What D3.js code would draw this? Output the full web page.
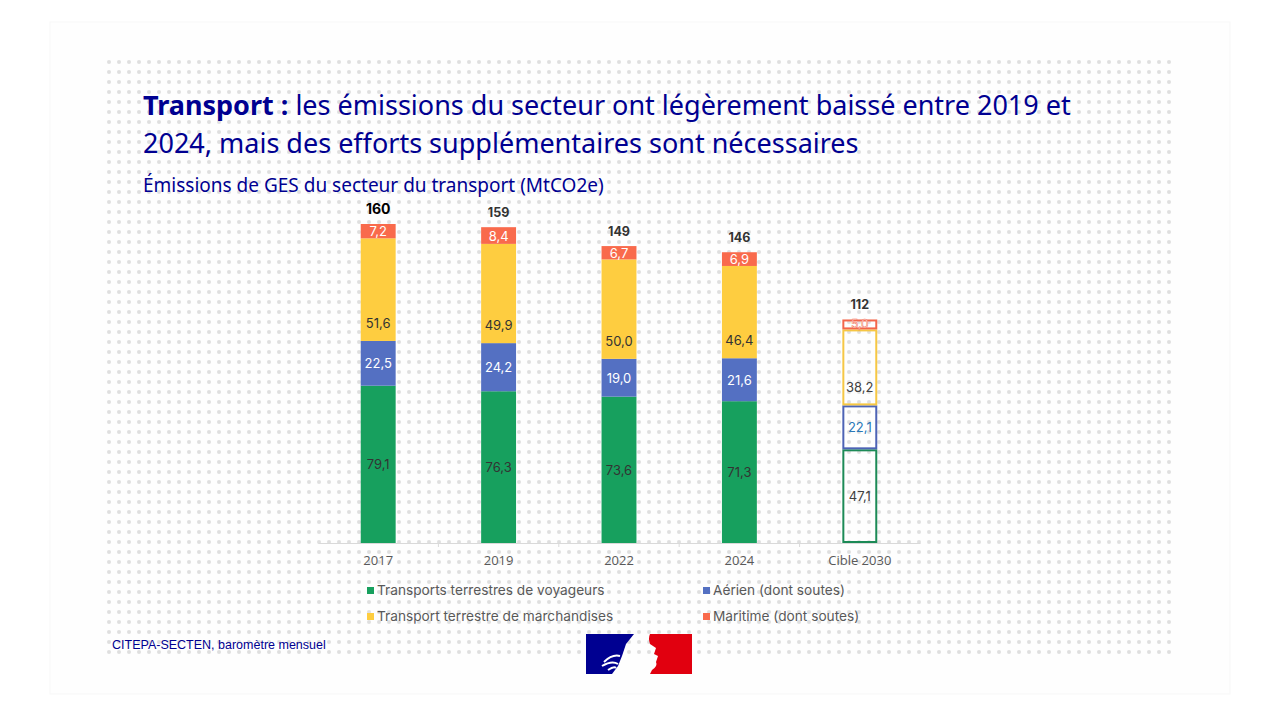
<!DOCTYPE html>
<html>
<head>
<meta charset="utf-8">
<script src="https://cdn.jsdelivr.net/npm/d3@7"></script>
<style>
  body { margin: 0; background: #fff; }
  svg { display: block; }
</style>
</head>
<body>
<div id="chart"></div>
<script>
// data (MtCO2e)
const categories = ["2017", "2019", "2022", "2024", "Cible 2030"];
const voyageurs = [79.1, 76.3, 73.6, 71.3, 47.1];
const aerien = [22.5, 24.2, 19.0, 21.6, 22.1];
const marchandises = [51.6, 49.9, 50.0, 46.4, 38.2];
const maritime = [7.2, 8.4, 6.7, 6.9, 5.0];
const totals = [160, 159, 149, 146, 112];
const seriesNames = ["Transports terrestres de voyageurs", "Aérien (dont soutes)",
                     "Transport terrestre de marchandises", "Maritime (dont soutes)"];
const targetIndex = 4; // "Cible 2030" drawn as outline

const W = 1280, H = 720;
const colors = ["#17a05e", "#5470c2", "#fecd40", "#f96a4c"];
const strokeTarget = ["#1c8a56", "#4d63b5", "#f6c744", "#f3664a"];
const navy = "#000091";
const titleFont = "'Noto Sans', 'Open Sans', sans-serif";

const svg = d3.select("#chart").append("svg")
    .attr("width", W)
    .attr("height", H);

// faint card + dotted background
svg.append("rect")
    .attr("x", 50).attr("y", 22).attr("width", 1180).attr("height", 672)
    .attr("fill", "#fefefe").attr("stroke", "#f7f7f7");

let defs = svg.append("defs");
let pat = defs.append("pattern")
    .attr("id", "dots")
    .attr("patternUnits", "userSpaceOnUse")
    .attr("width", 10).attr("height", 10)
    .attr("x", 104).attr("y", 57);
pat.append("circle").attr("cx", 5).attr("cy", 5).attr("r", 2).attr("fill", "#dfdfdf");
svg.append("rect")
    .attr("x", 104).attr("y", 57).attr("width", 1072).attr("height", 603)
    .attr("fill", "url(#dots)");

// title
let title = svg.append("text")
    .attr("x", 143).attr("y", 115)
    .attr("font-family", titleFont)
    .attr("font-size", 27)
    .attr("fill", navy);
title.append("tspan").attr("font-weight", "bold").text("Transport : ");
title.append("tspan").text("les émissions du secteur ont légèrement baissé entre 2019 et");
svg.append("text")
    .attr("x", 143).attr("y", 153)
    .attr("font-family", titleFont)
    .attr("font-size", 27)
    .attr("fill", navy)
    .text("2024, mais des efforts supplémentaires sont nécessaires");
svg.append("text")
    .attr("x", 143).attr("y", 192)
    .attr("font-family", titleFont)
    .attr("font-size", 19)
    .attr("fill", navy)
    .text("Émissions de GES du secteur du transport (MtCO2e)");

// stack
let rows = categories.map((c, i) => ({
    cat: c, i: i,
    s0: voyageurs[i], s1: aerien[i], s2: marchandises[i], s3: maritime[i]
}));
let stack = d3.stack().keys(["s0", "s1", "s2", "s3"])(rows);

const x = d3.scaleBand().domain(categories).range([318, 920]).paddingInner(0.71).paddingOuter(0.355);
const y = d3.scaleLinear().domain([0, 160.4]).range([543, 224]);

const locale = d3.formatLocale({decimal: ",", thousands: " ", grouping: [3], currency: ["", "€"]});
const fmt = locale.format(".1f");

let g = svg.append("g");

stack.forEach((layer, k) => {
    layer.forEach(d => {
        let i = d.data.i;
        let target = i === targetIndex;
        let x0 = x(d.data.cat), bw = x.bandwidth();
        let top = y(d[1]), bot = y(d[0]);
        if (target) {
            g.append("rect")
                .attr("x", x0 + 1).attr("y", top + 1)
                .attr("width", bw - 2).attr("height", Math.max(0, bot - top - 2))
                .attr("fill", "none")
                .attr("stroke", strokeTarget[k])
                .attr("stroke-width", 2);
        } else {
            g.append("rect")
                .attr("x", x0).attr("y", top)
                .attr("width", bw).attr("height", bot - top)
                .attr("fill", colors[k]);
        }
        // value label
        let ly = (top + bot) / 2 + 5;
        if (k === 2) ly = bot - 13;
        let fill;
        if (target) fill = k === 1 ? "#2a78b8" : (k === 3 ? "#fff" : "#404040");
        else fill = (k === 1 || k === 3) ? "#fff" : "#333";
        let t = g.append("text")
            .attr("x", x0 + bw / 2).attr("y", ly)
            .attr("text-anchor", "middle")
            .attr("font-family", "Inter, 'Noto Sans', sans-serif")
            .attr("font-size", 13)
            .attr("fill", fill)
            .text(fmt(d[1] - d[0]));
        if (target && k === 3) {
            t.attr("stroke", "#f3664a").attr("stroke-width", 0.5)
                .attr("font-size", 12).attr("y", (top + bot) / 2 + 4);
        }
    });
});

// totals
categories.forEach((c, i) => {
    let sum = voyageurs[i] + aerien[i] + marchandises[i] + maritime[i];
    g.append("text")
        .attr("x", x(c) + x.bandwidth() / 2)
        .attr("y", y(sum) - 10)
        .attr("text-anchor", "middle")
        .attr("font-family", "Inter, 'Noto Sans', sans-serif")
        .attr("font-weight", "bold")
        .attr("font-size", i === 0 ? 14 : 12.5)
        .attr("fill", i === 0 ? "#000" : "#333")
        .text(totals[i]);
});

// axis
let axis = svg.append("g")
    .attr("transform", `translate(0, ${y(0)})`)
    .call(d3.axisBottom(x).tickSize(0).tickPadding(13));
axis.select(".domain").attr("stroke", "#d9d9d9");
axis.selectAll("text")
    .attr("font-family", "'Liberation Sans Narrow', 'Open Sans', sans-serif")
    .attr("font-size", 13)
    .attr("fill", "#595959");
// boundary ticks between categories
let step = x.step();
categories.slice(1).forEach(c => {
    axis.append("line")
        .attr("x1", x(c) - (step - x.bandwidth()) / 2).attr("x2", x(c) - (step - x.bandwidth()) / 2)
        .attr("y1", 0).attr("y2", 4)
        .attr("stroke", "#d9d9d9");
});

// legend
const legendPos = [[367, 592], [703, 592], [367, 618], [703, 618]];
seriesNames.forEach((n, k) => {
    let lg = svg.append("g").attr("transform", `translate(${legendPos[k][0]}, ${legendPos[k][1]})`);
    lg.append("rect").attr("x", 0).attr("y", -5).attr("width", 7).attr("height", 7).attr("fill", colors[k]);
    lg.append("text")
        .attr("x", 10).attr("y", 3)
        .attr("font-family", "Inter, 'Noto Sans', sans-serif")
        .attr("font-size", 13.7)
        .attr("fill", "#595959")
        .text(n);
});

// source
svg.append("text")
    .attr("x", 112).attr("y", 649)
    .attr("font-family", "'Liberation Sans Narrow', 'Liberation Sans', sans-serif")
    .attr("font-size", 12.5)
    .attr("fill", navy)
    .text("CITEPA-SECTEN, baromètre mensuel");

// Marianne logo (simplified)
let logo = svg.append("g").attr("transform", "translate(586, 634)");
logo.append("path")
    .attr("d", "M0,0 L48,0 L40,10 L36,22 L32,32 L26,40 L0,40 Z")
    .attr("fill", navy);
logo.append("path")
    .attr("d", "M18,28 Q26,20 34,22 M16,32 Q26,26 32,30 M22,36 Q28,32 30,34")
    .attr("stroke", "#fff").attr("stroke-width", 2).attr("fill", "none");
logo.append("path")
    .attr("d", "M64,0 L106,0 L106,40 L64,40 L66,36 Q72,32 70,28 L72,22 L68,20 L70,14 L64,10 Q62,4 64,0 Z")
    .attr("fill", "#e1000f");
</script>
</body>
</html>
